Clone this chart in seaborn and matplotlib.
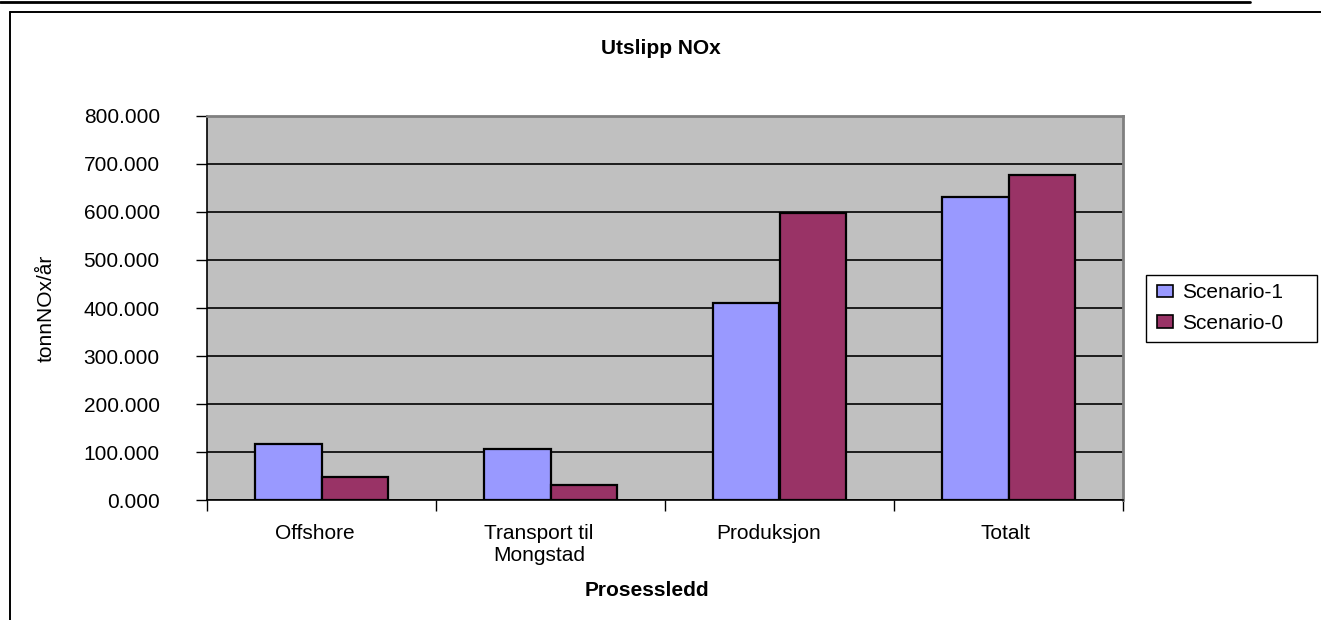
import matplotlib
matplotlib.use("Agg")
import matplotlib.pyplot as plt
import matplotlib.ticker as mticker
import matplotlib.transforms as mtransforms
from matplotlib.lines import Line2D
from matplotlib.patches import Patch, Rectangle
import seaborn as sns
import pandas as pd

# Emissions per process step (tonn NOx per år)
categories = ["Offshore", "Transport til\nMongstad", "Produksjon", "Totalt"]
series_names = ["Scenario-1", "Scenario-0"]
scenario_1 = [116, 106, 410, 632]
scenario_0 = [48, 32, 597, 677]
colors = ["#9999FF", "#993366"]

df = pd.DataFrame({
    "Prosessledd": categories * 2,
    "Scenario": [series_names[0]] * len(categories) + [series_names[1]] * len(categories),
    "Utslipp": scenario_1 + scenario_0,
})

sns.set_theme(style="white")
plt.rcParams["font.family"] = ["Liberation Sans", "DejaVu Sans"]
plt.rcParams["text.color"] = "black"
plt.rcParams["axes.labelcolor"] = "black"
plt.rcParams["xtick.color"] = "black"
plt.rcParams["ytick.color"] = "black"

W, H = 1321, 620
fig = plt.figure(figsize=(W / 100, H / 100), dpi=100)
ax = fig.add_axes([207 / W, 120 / H, (1123 - 207) / W, (500 - 116) / H])
ax.set_facecolor("#C0C0C0")

sns.barplot(data=df, x="Prosessledd", y="Utslipp", hue="Scenario",
            palette=colors, order=categories, hue_order=series_names,
            width=0.58, edgecolor="black", linewidth=1.6, saturation=1,
            errorbar=None, ax=ax, legend=False, zorder=3)

ax.set_ylim(0, 800)
ax.set_xlim(-0.5, len(categories) - 0.5)
ax.yaxis.set_major_locator(mticker.MultipleLocator(100))
ax.yaxis.set_major_formatter(mticker.FuncFormatter(lambda v, p: f"{v:.3f}"))
ax.grid(axis="y", color="black", linewidth=1.2, zorder=1)
ax.set_axisbelow(True)

# category separators as ticks at bin edges, names centred between them
ax.set_xticks([i - 0.5 for i in range(len(categories) + 1)], minor=False)
ax.set_xticklabels([""] * (len(categories) + 1))
ax.set_xticks(range(len(categories)), minor=True)
ax.set_xticklabels(categories, minor=True, fontsize=15, linespacing=1.2)
ax.tick_params(axis="x", which="major", direction="out", length=8, width=1, color="black", bottom=True)
ax.tick_params(axis="x", which="minor", length=0, pad=17)
ax.tick_params(axis="y", direction="out", length=8, width=1, color="black", left=True,
               labelsize=15, pad=26)

for side in ["top", "right"]:
    ax.spines[side].set_color("#808080")
    ax.spines[side].set_linewidth(2)
for side in ["left", "bottom"]:
    ax.spines[side].set_color("black")
    ax.spines[side].set_linewidth(1.2)
    ax.spines[side].set_visible(True)

ax.set_xlabel("Prosessledd", fontsize=15, fontweight="bold", labelpad=12)
ax.set_ylabel("tonnNOx/år", fontsize=15)
ax.yaxis.set_label_coords(-0.165, 0.5)

fig.text(0.5, 1 - 48 / H, "Utslipp NOx", ha="center", va="center",
         fontsize=15, fontweight="bold")

# chart frame
fig.add_artist(Line2D([10 / W, 1.0], [1 - 12 / H] * 2, color="black", linewidth=1.4))
fig.add_artist(Line2D([10 / W] * 2, [1 - 12 / H, 0], color="black", linewidth=1.4))
fig.add_artist(Line2D([0, 1250 / W], [1 - 1.5 / H] * 2, color="black", linewidth=2))

# legend box
fig.add_artist(Rectangle((1146 / W, 1 - 342 / H), (1317 - 1146) / W, (342 - 275) / H,
                         transform=fig.transFigure, facecolor="white",
                         edgecolor="black", linewidth=1))
handles = [Patch(facecolor=c, edgecolor="black", linewidth=1.2) for c in colors]
leg = fig.legend(handles, series_names, loc="upper left",
                 bbox_to_anchor=(1153 / W, 1 - 279 / H), fontsize=15,
                 frameon=False, borderaxespad=0,
                 handlelength=0.75, handleheight=0.55, handletextpad=0.45,
                 borderpad=0.2, labelspacing=0.55)

# category names sit slightly left of centre, more so for wider names
fig.canvas.draw()
renderer = fig.canvas.get_renderer()
for lab in ax.get_xticklabels(minor=True):
    w = lab.get_window_extent(renderer).width
    shift = mtransforms.ScaledTranslation(-(0.14 * w - 4) / 100, 0, fig.dpi_scale_trans)
    lab.set_transform(lab.get_transform() + shift)

# axis title sits a little left of the plot centre
xl = ax.xaxis.label
xl.set_transform(xl.get_transform()
                 + mtransforms.ScaledTranslation(-18 / 100, 0, fig.dpi_scale_trans))

fig.savefig("out.png", dpi=100, facecolor="white")
